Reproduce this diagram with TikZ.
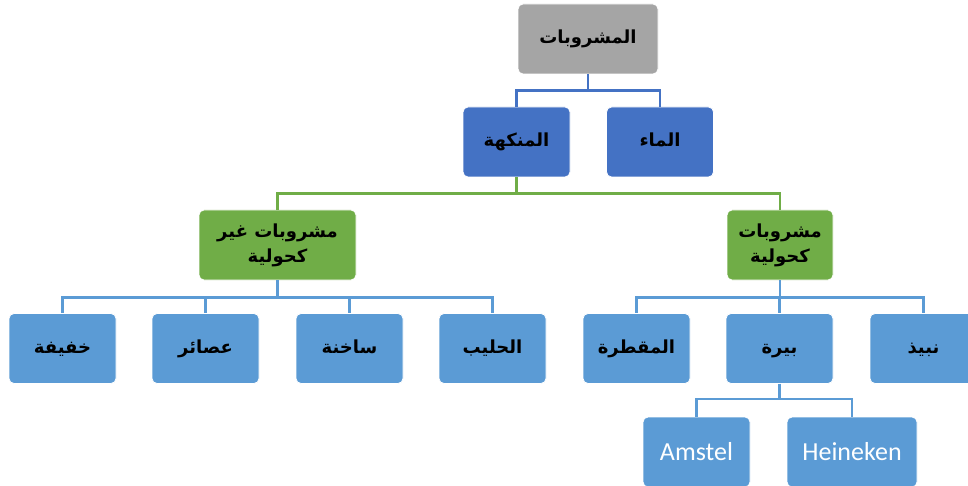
\documentclass[tikz,border=0pt]{standalone}
\usepackage{fontspec}
\TeXXeTstate=1
\newfontfamily\arabicfont[Script=Arabic]{DejaVu Sans}
\newfontfamily\latfont{Carlito}
\definecolor{cgray}{HTML}{A5A5A5}
\definecolor{cdblue}{HTML}{4472C4}
\definecolor{cgreen}{HTML}{70AD47}
\definecolor{clblue}{HTML}{5B9BD5}
\tikzset{
  box/.style={rectangle, rounded corners=5pt, draw=white, line width=0.8pt,
    minimum width=107pt, minimum height=70pt, inner sep=2pt, align=center,
    font=\arabicfont\bfseries\fontsize{18}{25}\selectfont, text=black},
  oneline/.style={text height=14pt, text depth=4pt},
  rootbox/.style={box, oneline, fill=cgray, minimum width=140pt},
  lvone/.style={box, oneline, fill=cdblue},
  lvtwo/.style={box, fill=cgreen},
  leaf/.style={box, oneline, fill=clblue},
  latleaf/.style={box, fill=clblue, font=\latfont\fontsize{26}{30}\selectfont, text=white},
  conn/.style={line width=2.4pt},
}
\begin{document}
\begin{tikzpicture}[x=1pt,y=-1pt]
\path[use as bounding box, fill=white] (0,0) rectangle (968,486);
\node[rootbox] (root) at (588,39) {\beginR المشروبات\endR};
\node[lvone] (water) at (660,142) {\beginR الماء\endR};
\node[lvone] (flav) at (516.5,142) {\beginR المنكهة\endR};
\node[lvtwo, minimum width=157pt] (nonalc) at (277.5,245) {\beginR مشروبات غير\endR\\\beginR كحولية\endR};
\node[lvtwo, minimum width=106pt] (alc) at (780,245) {\beginR مشروبات\endR\\\beginR كحولية\endR};
\node[leaf] (light) at (62.5,348.5) {\beginR خفيفة\endR};
\node[leaf] (juice) at (205.5,348.5) {\beginR عصائر\endR};
\node[leaf] (hot) at (349.5,348.5) {\beginR ساخنة\endR};
\node[leaf] (milk) at (492.5,348.5) {\beginR الحليب\endR};
\node[leaf] (dist) at (636.5,348.5) {\beginR المقطرة\endR};
\node[leaf] (beer) at (779.5,348.5) {\beginR بيرة\endR};
\node[leaf] (wine) at (923.5,348.5) {\beginR نبيذ\endR};
\node[latleaf] (amstel) at (696.5,452) {Amstel};
\node[latleaf, minimum width=130pt] (heineken) at (852,452) {Heineken};

\draw[conn, cdblue] (root.south) -- ++(0,16) -| (water.north);
\draw[conn, cdblue] (root.south) -- ++(0,16) -| (flav.north);
\draw[conn, cgreen] (flav.south) -- ++(0,16) -| (nonalc.north);
\draw[conn, cgreen] (flav.south) -- ++(0,16) -| (alc.north);
\foreach \c in {light,juice,hot,milk}
  \draw[conn, clblue] (nonalc.south) -- ++(0,17) -| (\c.north);
\foreach \c in {dist,beer,wine}
  \draw[conn, clblue] (alc.south) -- ++(0,17) -| (\c.north);
\foreach \c in {amstel,heineken}
  \draw[conn, clblue] (beer.south) -- ++(0,15) -| (\c.north);
\end{tikzpicture}
\end{document}
